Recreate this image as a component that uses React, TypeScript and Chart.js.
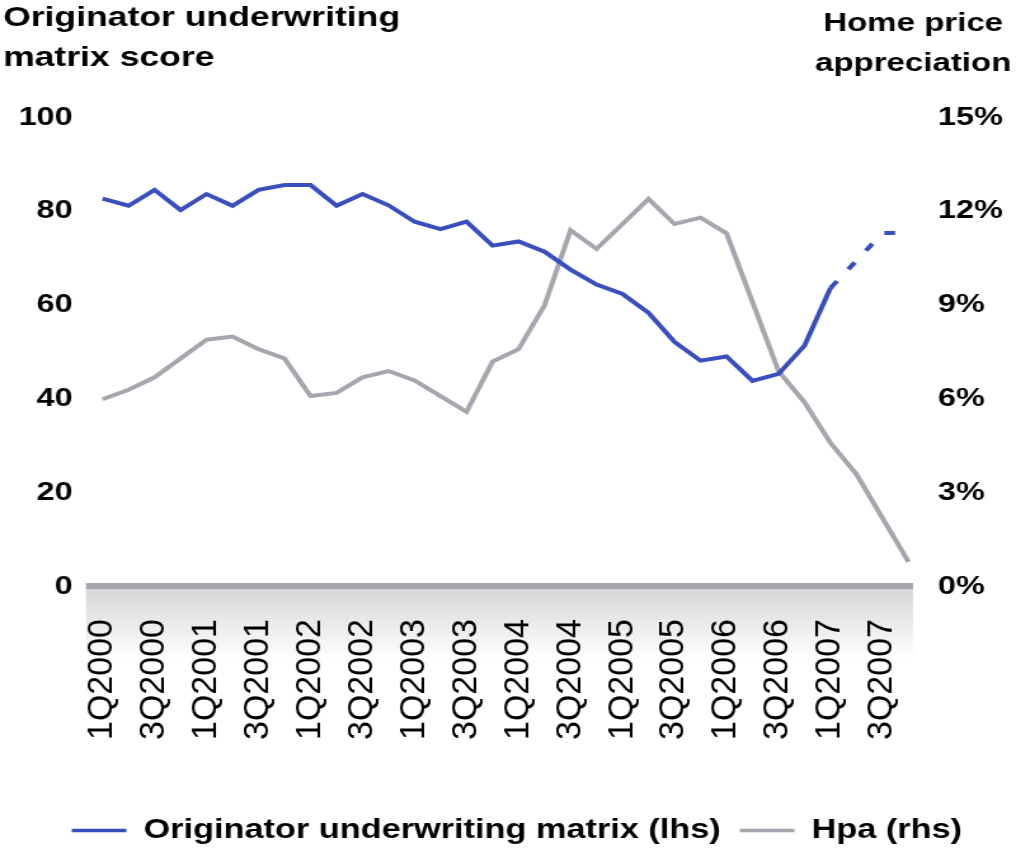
import React, { useEffect, useRef } from "react";
import { Chart, registerables } from "chart.js";

Chart.register(...registerables);

// horizontal stretch of the whole picture (the reference is stretched sideways)
const S = 1.27;
const W = 801;
const H = 854;

const QUARTERS = [
  "1Q2000", "2Q2000", "3Q2000", "4Q2000",
  "1Q2001", "2Q2001", "3Q2001", "4Q2001",
  "1Q2002", "2Q2002", "3Q2002", "4Q2002",
  "1Q2003", "2Q2003", "3Q2003", "4Q2003",
  "1Q2004", "2Q2004", "3Q2004", "4Q2004",
  "1Q2005", "2Q2005", "3Q2005", "4Q2005",
  "1Q2006", "2Q2006", "3Q2006", "4Q2006",
  "1Q2007", "2Q2007", "3Q2007", "4Q2007",
];

const UNDERWRITING = [
  82.7, 81.2, 84.6, 80.3, 83.7, 81.2, 84.6, 85.6,
  85.6, 81.2, 83.7, 81.3, 77.8, 76.2, 77.8, 72.7,
  73.6, 71.4, 67.6, 64.4, 62.4, 58.4, 52.2, 48.2,
  49.1, 43.9, 45.4, 51.4, 63.7, 69.5, 75.4, 75.4,
];

const HPA = [
  6.0, 6.3, 6.7, 7.3, 7.9, 8.0, 7.6, 7.3,
  6.1, 6.2, 6.7, 6.9, 6.6, 6.1, 5.6, 7.2,
  7.6, 9.0, 11.4, 10.8, 11.6, 12.4, 11.6, 11.8,
  11.3, 9.1, 6.9, 5.9, 4.6, 3.6, 2.2, 0.8,
];

const FORECAST_FROM = 28; // dashed from 1Q2007 onwards
const LEFT_TICKS = [0, 20, 40, 60, 80, 100];
const RIGHT_TICKS = [0, 3, 6, 9, 12, 15];
const LEFT_TITLE = ["Originator underwriting", "matrix score"];
const RIGHT_TITLE = ["Home price", "appreciation"];
const SERIES_NAMES = ["Originator underwriting matrix (lhs)", "Hpa (rhs)"];

const BLUE = "#3A4FBF";
const GRAY = "#A6A6AE";
const FONT = "'Liberation Sans', Arial, Helvetica, sans-serif";

const decorPlugin = {
  id: "decor",
  afterLayout(chart: any) {
    if (chart.legend) {
      chart.legend.left += 6.5;
      chart.legend.right += 6.5;
    }
  },
  beforeDatasetsDraw(chart: any) {
    const { ctx, chartArea } = chart;
    const y0 = chart.scales.y.getPixelForValue(0);
    const left = chartArea.left - 2.8;
    const right = chartArea.right - 6.7;
    ctx.save();
    const g = ctx.createLinearGradient(0, y0 + 2, 0, y0 + 72);
    g.addColorStop(0, "#D6D6D8");
    g.addColorStop(1, "#FFFFFF");
    ctx.fillStyle = g;
    ctx.fillRect(left, y0 + 2, right - left, 70);
    ctx.fillStyle = GRAY;
    ctx.fillRect(left, y0 - 4, right - left, 6);
    ctx.restore();
  },
  afterDraw(chart: any) {
    const { ctx } = chart;
    const xs = chart.scales.x;
    ctx.save();
    ctx.fillStyle = "#000";
    // axis titles
    ctx.font = `bold 28px ${FONT}`;
    ctx.textAlign = "left";
    ctx.textBaseline = "alphabetic";
    ctx.fillText(LEFT_TITLE[0], 2.4, 26);
    ctx.fillText(LEFT_TITLE[1], 2.4, 66);
    ctx.font = `bold 26px ${FONT}`;
    ctx.textAlign = "center";
    ctx.fillText(RIGHT_TITLE[0], 719, 30.5);
    ctx.fillText(RIGHT_TITLE[1], 719, 71);
    // category labels (every other quarter), rotated
    ctx.font = `34px ${FONT}`;
    ctx.textAlign = "right";
    ctx.textBaseline = "middle";
    QUARTERS.forEach((q, i) => {
      if (i % 2 !== 0) return;
      const x = xs.getPixelForValue(i);
      ctx.save();
      ctx.translate(x, 619);
      ctx.scale(1 / S, 1);
      ctx.rotate(-Math.PI / 2);
      ctx.fillText(q, 0, 0);
      ctx.restore();
    });
    ctx.restore();
  },
};

export default function App() {
  const ref = useRef<HTMLCanvasElement | null>(null);

  useEffect(() => {
    if (!ref.current) return;
    const chart = new Chart(ref.current, {
      type: "line",
      data: {
        labels: QUARTERS,
        datasets: [
          {
            label: SERIES_NAMES[0],
            data: UNDERWRITING,
            yAxisID: "y",
            borderColor: BLUE,
            backgroundColor: BLUE,
            borderWidth: 4,
            pointRadius: 0,
            tension: 0,
            fill: false,
            borderCapStyle: "butt",
            segment: {
              borderDash: (c: any) => (c.p0DataIndex >= FORECAST_FROM ? [8.5, 14.8] : undefined),
            },
          },
          {
            label: SERIES_NAMES[1],
            data: HPA,
            yAxisID: "y1",
            borderColor: GRAY,
            backgroundColor: GRAY,
            borderWidth: 4,
            pointRadius: 0,
            tension: 0,
            fill: false,
          },
        ],
      },
      options: {
        responsive: false,
        animation: false,
        devicePixelRatio: 1,
        events: [],
        layout: { padding: { top: 117.5, left: 0, right: 0, bottom: 0 } },
        font: { family: FONT },
        plugins: {
          tooltip: { enabled: false },
          title: { display: false },
          legend: {
            position: "bottom",
            labels: {
              color: "#000",
              font: { family: FONT, size: 27, weight: "bold" },
              boxWidth: 43,
              boxHeight: 3.5,
              padding: 15,
              generateLabels: (ch: any) =>
                ch.data.datasets.map((ds: any, i: number) => ({
                  text: ds.label,
                  fillStyle: ds.borderColor,
                  strokeStyle: ds.borderColor,
                  lineWidth: 0,
                  hidden: false,
                  datasetIndex: i,
                  fontColor: "#000",
                })),
            },
          },
        },
        scales: {
          x: {
            type: "category",
            offset: true,
            grid: { display: false, drawTicks: false },
            border: { display: false },
            ticks: { display: false },
            afterFit: (s: any) => {
              s.height = 215;
            },
          },
          y: {
            position: "left",
            min: 0,
            max: 100,
            grid: { display: false, drawTicks: false },
            border: { display: false },
            ticks: {
              color: "#000",
              padding: 13.3,
              font: { family: FONT, size: 25.5, weight: "bold" },
            },
            afterBuildTicks: (s: any) => {
              s.ticks = LEFT_TICKS.map((v) => ({ value: v }));
            },
            afterFit: (s: any) => {
              s.width = 70.5;
            },
          },
          y1: {
            position: "right",
            min: 0,
            max: 15,
            grid: { display: false, drawTicks: false },
            border: { display: false },
            ticks: {
              color: "#000",
              padding: 13,
              font: { family: FONT, size: 25.5, weight: "bold" },
              callback: (v: any) => `${v}%`,
            },
            afterBuildTicks: (s: any) => {
              s.ticks = RIGHT_TICKS.map((v) => ({ value: v }));
            },
            afterFit: (s: any) => {
              s.width = 75.4;
            },
          },
        },
      },
      plugins: [decorPlugin],
    } as any);
    return () => chart.destroy();
  }, []);

  return (
    <div
      style={{
        position: "fixed",
        left: 0,
        top: 0,
        width: 1017,
        height: 849,
        overflow: "hidden",
        background: "#fff",
      }}
    >
      <canvas
        ref={ref}
        width={W}
        height={H}
        style={{
          display: "block",
          width: `${W}px`,
          height: `${H}px`,
          transform: `scaleX(${S})`,
          transformOrigin: "0 0",
        }}
      />
    </div>
  );
}
